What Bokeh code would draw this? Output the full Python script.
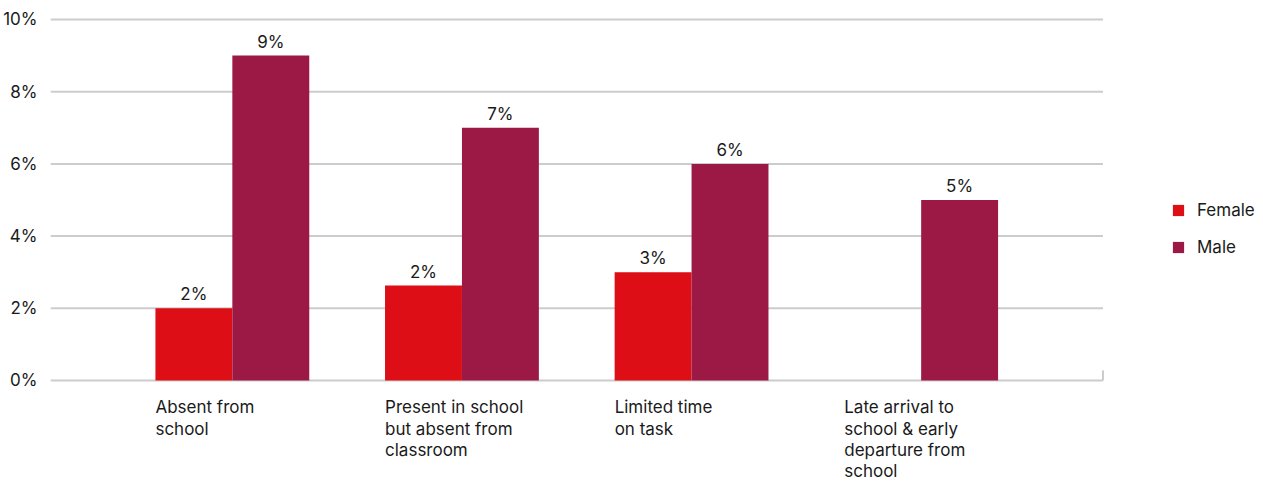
from bokeh.plotting import figure
from bokeh.models import Range1d, FixedTicker, PrintfTickFormatter, Legend, LegendItem, ColumnDataSource
from bokeh.core.properties import value
from bokeh.embed import file_html
from bokeh.resources import INLINE

categories = ["Absent from\nschool", "Present in school\nbut absent from\nclassroom",
              "Limited time\non task", "Late arrival to\nschool & early\ndeparture from\nschool"]
female = [2.0, 2.63, 3.0, 0.0]
male = [9.0, 7.0, 6.0, 5.0]
female_labels = ["2%", "2%", "3%", ""]
male_labels = ["9%", "7%", "6%", "5%"]
y_ticks = [0, 2, 4, 6, 8, 10]

FONT = "Inter"
FS = "17px"
RED = "#dd0e16"
WINE = "#9b1944"
GRID = "#cccccc"
TXT = "#1a1a1a"

X0, X_AXIS_END, X1 = -0.792, 3.792, 4.491

W, H = 1263, 481
p = figure(width=W, height=H, output_backend="svg", toolbar_location=None,
           x_range=Range1d(X0, X1), y_range=Range1d(-2.798, 10.526),
           min_border_left=48, min_border_right=0, min_border_top=0, min_border_bottom=0)
p.outline_line_color = None
p.xaxis.visible = False
p.xgrid.visible = False
p.ygrid.visible = False
ax = p.yaxis[0]
ax.ticker = FixedTicker(ticks=y_ticks)
ax.formatter = PrintfTickFormatter(format="%d%%")
ax.axis_line_color = None
ax.major_tick_line_color = None
ax.minor_tick_line_color = None
ax.major_label_standoff = 7
ax.major_label_text_font = FONT
ax.major_label_text_font_size = FS
ax.major_label_text_color = TXT

# gridlines (end at the category axis end)
p.segment(x0=[X0] * len(y_ticks), y0=y_ticks, x1=[X_AXIS_END] * len(y_ticks), y1=y_ticks,
          line_color=GRID, line_width=2)
# baseline end tick
p.segment(x0=[X_AXIS_END], y0=[0], x1=[X_AXIS_END], y1=[0.28], line_color=GRID, line_width=2)

xs = list(range(len(categories)))
bw = 0.335
fx = [x - bw / 2 for x in xs]
mx = [x + bw / 2 for x in xs]
keep = [i for i in xs if female[i] > 0]
fsrc = ColumnDataSource(dict(x=[fx[i] for i in keep], top=[female[i] for i in keep],
                             lab=[female_labels[i] for i in keep]))
msrc = ColumnDataSource(dict(x=mx, top=male, lab=male_labels))
rf = p.vbar(x="x", top="top", bottom=0, width=bw, source=fsrc, fill_color=RED, line_color=None)
rm = p.vbar(x="x", top="top", bottom=0, width=bw, source=msrc, fill_color=WINE, line_color=None)

for src in (fsrc, msrc):
    p.text(x="x", y="top", text="lab", source=src, text_align="center", text_baseline="bottom",
           y_offset=-4, text_font=value(FONT), text_font_size=FS, text_color=TXT)

# category labels
p.text(x=[x - bw for x in xs], y=[0] * len(xs), text=categories, text_align="left", text_baseline="top",
       y_offset=17, text_font=value(FONT), text_font_size=FS, text_color=TXT, text_line_height=1.06)

legend = Legend(items=[LegendItem(label="Female", renderers=[rf]), LegendItem(label="Male", renderers=[rm])],
                location=(1171 - 50, 224), orientation="vertical", border_line_color=None,
                background_fill_alpha=0, padding=0, margin=0, spacing=17, glyph_width=14, glyph_height=14,
                label_height=20, label_standoff=12, label_text_font=FONT, label_text_font_size=FS,
                label_text_color=TXT)
p.add_layout(legend, "center")

open("out.html", "w").write(file_html(p, INLINE))
